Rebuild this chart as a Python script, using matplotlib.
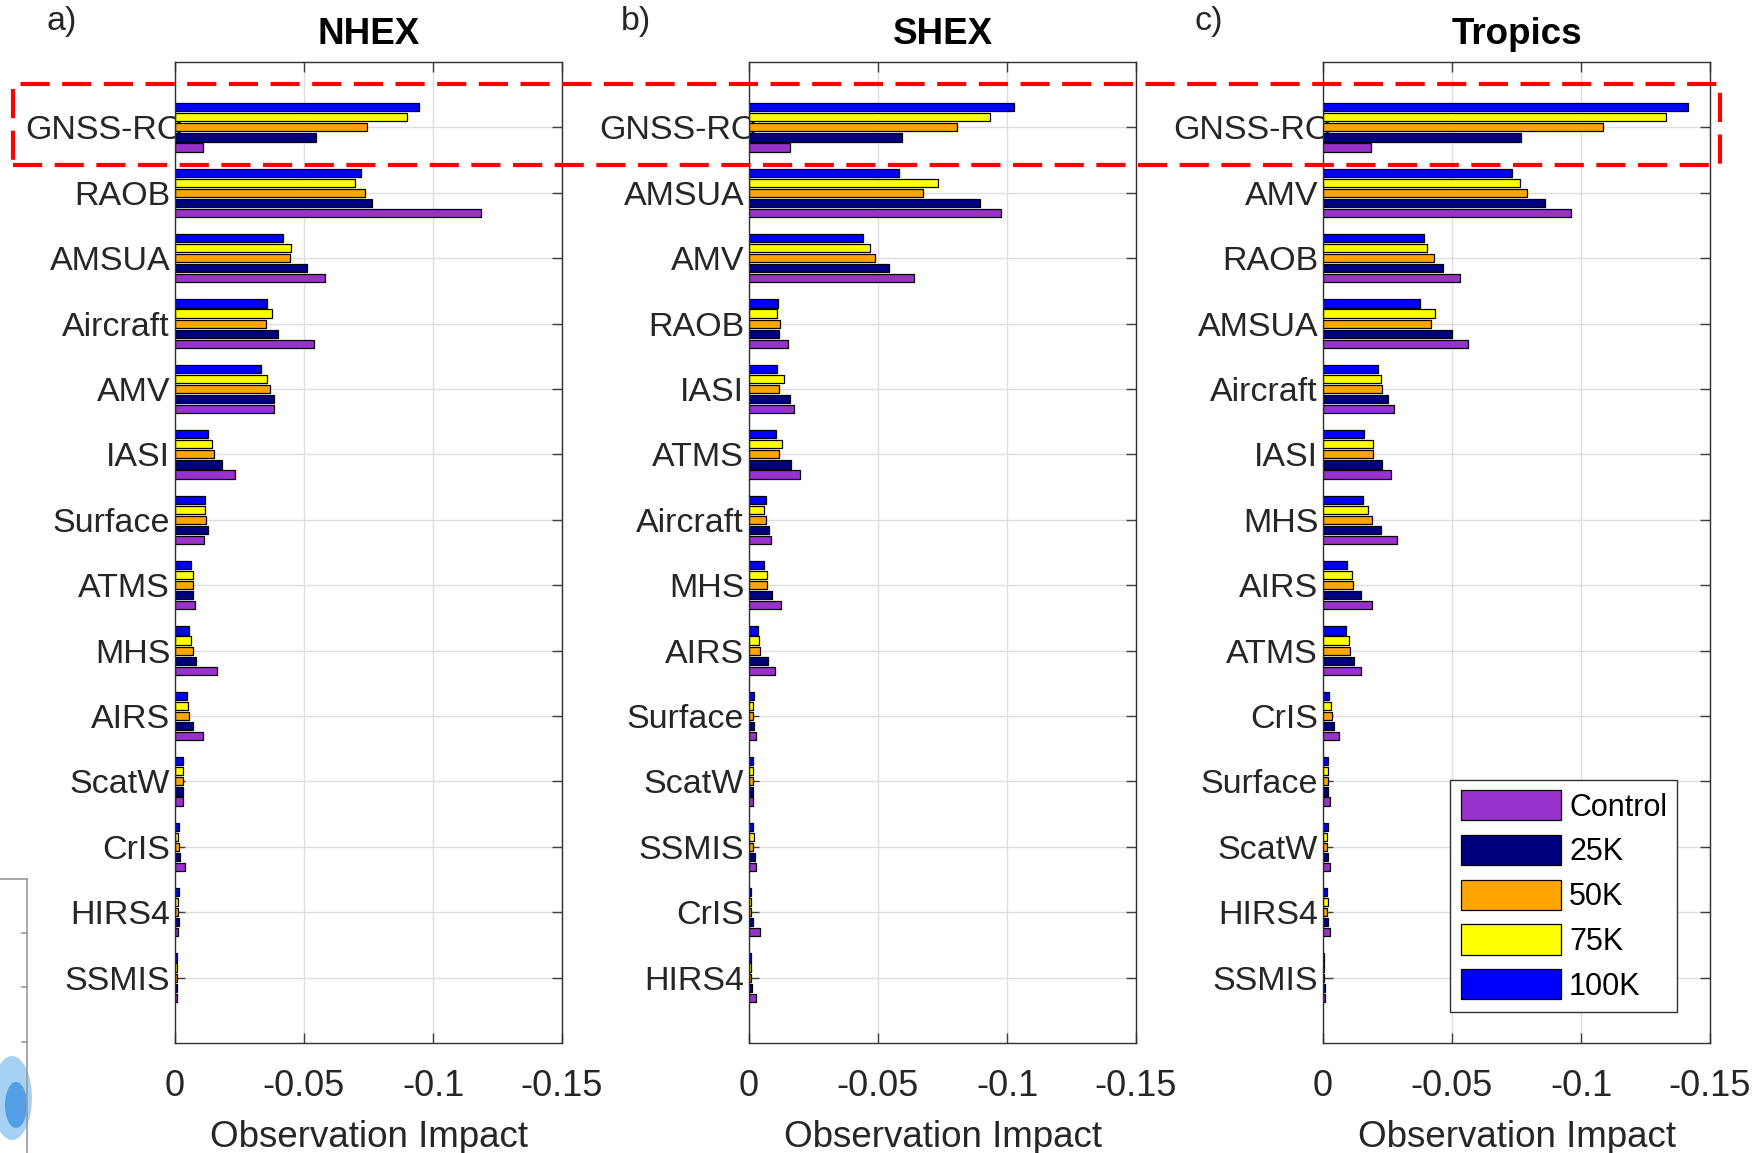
import matplotlib
matplotlib.use('Agg')
import matplotlib.pyplot as plt
import matplotlib.transforms as mtransforms
from matplotlib.patches import Rectangle, Patch, Ellipse
from matplotlib.lines import Line2D
import numpy as np

plt.rcParams['font.family'] = ['Liberation Sans', 'DejaVu Sans']

# ---- data (observation impact, negative = beneficial) ----
series_names = ['Control', '25K', '50K', '75K', '100K']
series_colors = ['#9932CC', '#00007F', '#FFA500', '#FFFF00', '#0000FF']

nhex_labels = ['GNSS-RO', 'RAOB', 'AMSUA', 'Aircraft', 'AMV', 'IASI', 'Surface',
               'ATMS', 'MHS', 'AIRS', 'ScatW', 'CrIS', 'HIRS4', 'SSMIS']
nhex_control = [-0.0108, -0.1185, -0.0581, -0.0540, -0.0383, -0.0233, -0.0114,
                -0.0076, -0.0164, -0.0108, -0.0032, -0.0040, -0.0012, -0.0008]
nhex_25k = [-0.0547, -0.0764, -0.0513, -0.0400, -0.0383, -0.0183, -0.0127,
            -0.0071, -0.0083, -0.0071, -0.0032, -0.0021, -0.0014, -0.0008]
nhex_50k = [-0.0745, -0.0737, -0.0447, -0.0354, -0.0368, -0.0150, -0.0120,
            -0.0069, -0.0069, -0.0054, -0.0032, -0.0015, -0.0012, -0.0006]
nhex_75k = [-0.0900, -0.0697, -0.0451, -0.0377, -0.0357, -0.0145, -0.0117,
            -0.0071, -0.0063, -0.0052, -0.0032, -0.0010, -0.0012, -0.0006]
nhex_100k = [-0.0945, -0.0720, -0.0418, -0.0356, -0.0335, -0.0129, -0.0117,
             -0.0063, -0.0056, -0.0045, -0.0032, -0.0014, -0.0014, -0.0008]

shex_labels = ['GNSS-RO', 'AMSUA', 'AMV', 'RAOB', 'IASI', 'ATMS', 'Aircraft',
               'MHS', 'AIRS', 'Surface', 'ScatW', 'SSMIS', 'CrIS', 'HIRS4']
shex_control = [-0.0160, -0.0978, -0.0641, -0.0153, -0.0174, -0.0197, -0.0084,
                -0.0123, -0.0100, -0.0026, -0.0016, -0.0026, -0.0041, -0.0026]
shex_25k = [-0.0592, -0.0897, -0.0541, -0.0115, -0.0160, -0.0163, -0.0079,
            -0.0090, -0.0074, -0.0018, -0.0016, -0.0022, -0.0016, -0.0010]
shex_50k = [-0.0807, -0.0676, -0.0490, -0.0120, -0.0115, -0.0118, -0.0065,
            -0.0070, -0.0043, -0.0016, -0.0016, -0.0016, -0.0009, -0.0006]
shex_75k = [-0.0933, -0.0733, -0.0470, -0.0108, -0.0135, -0.0129, -0.0058,
            -0.0070, -0.0039, -0.0016, -0.0016, -0.0018, -0.0009, -0.0006]
shex_100k = [-0.1028, -0.0580, -0.0440, -0.0113, -0.0110, -0.0105, -0.0066,
             -0.0060, -0.0035, -0.0021, -0.0017, -0.0017, -0.0007, -0.0006]

trop_labels = ['GNSS-RO', 'AMV', 'RAOB', 'AMSUA', 'Aircraft', 'IASI', 'MHS',
               'AIRS', 'ATMS', 'CrIS', 'Surface', 'ScatW', 'HIRS4', 'SSMIS']
trop_control = [-0.0187, -0.0962, -0.0532, -0.0561, -0.0275, -0.0262, -0.0287,
                -0.0189, -0.0149, -0.0063, -0.0027, -0.0026, -0.0026, -0.0006]
trop_25k = [-0.0768, -0.0859, -0.0464, -0.0499, -0.0251, -0.0228, -0.0225,
            -0.0146, -0.0120, -0.0044, -0.0019, -0.0019, -0.0020, -0.0006]
trop_50k = [-0.1085, -0.0791, -0.0430, -0.0417, -0.0228, -0.0192, -0.0189,
            -0.0117, -0.0105, -0.0033, -0.0018, -0.0016, -0.0017, -0.0005]
trop_75k = [-0.1329, -0.0763, -0.0404, -0.0435, -0.0223, -0.0194, -0.0175,
            -0.0113, -0.0100, -0.0031, -0.0018, -0.0016, -0.0018, -0.0005]
trop_100k = [-0.1415, -0.0732, -0.0391, -0.0377, -0.0212, -0.0158, -0.0155,
             -0.0094, -0.0088, -0.0025, -0.0019, -0.0018, -0.0016, -0.0005]

xticks = [0, -0.05, -0.1, -0.15]
xticklabels = ['0', '-0.05', '-0.1', '-0.15']

panels = [
    ('a)', 'NHEX', nhex_labels, [nhex_control, nhex_25k, nhex_50k, nhex_75k, nhex_100k]),
    ('b)', 'SHEX', shex_labels, [shex_control, shex_25k, shex_50k, shex_75k, shex_100k]),
    ('c)', 'Tropics', trop_labels, [trop_control, trop_25k, trop_50k, trop_75k, trop_100k]),
]

W, H = 1756, 1153
fig = plt.figure(figsize=(W / 100, H / 100), dpi=100)

txt = '#262626'
ax_lefts = [175, 749, 1323]
ax_w = 387
ax_top, ax_bot = 62, 1043
panel_label_x = [46, 621, 1195]

step = 0.154
bar_h = 0.125

for k, (plabel, title, labels, vals) in enumerate(panels):
    ax = fig.add_axes([ax_lefts[k] / W, 1 - ax_bot / H, ax_w / W, (ax_bot - ax_top) / H])
    n = len(labels)
    y = np.arange(1, n + 1)
    for i, (name, col, v) in enumerate(zip(series_names, series_colors, vals)):
        off = (2 - i) * step
        ax.barh(y + off, v, height=bar_h, color=col, edgecolor='black',
                linewidth=0.9, zorder=2, label=name)
    ax.set_ylim(n + 1, 0)
    ax.set_xlim(0, -0.15)
    ax.set_yticks(y)
    ax.set_yticklabels(labels)
    ax.set_xticks(xticks)
    ax.set_xticklabels(xticklabels)
    ax.grid(True, color='#dedede', linewidth=1.0, zorder=0)
    ax.set_axisbelow(True)
    ax.tick_params(axis='both', direction='in', length=7, width=1.0, color='#404040',
                   labelcolor=txt, top=True, right=True)
    ax.tick_params(axis='y', pad=3.5, labelsize=24.5)
    ax.tick_params(axis='x', pad=19, labelsize=26)
    # the GNSS-RO label sits closer to the axis in the original
    shift = mtransforms.ScaledTranslation(0.13, 0, fig.dpi_scale_trans)
    for lab in ax.get_yticklabels():
        if lab.get_text() == 'GNSS-RO':
            lab.set_transform(lab.get_transform() + shift)
    for sp in ax.spines.values():
        sp.set_color('#303030')
        sp.set_linewidth(1.0)
    ax.set_xlabel('Observation Impact', fontsize=26.5, color=txt, labelpad=11)
    ax.set_title(title, fontsize=26.5, fontweight='bold', color='black', pad=13)
    fig.text(panel_label_x[k] / W, 1 - 30 / H, plabel, fontsize=24.5, color=txt,
             ha='left', va='baseline')

    if k == 2:
        handles = [Patch(facecolor=c, edgecolor='black', linewidth=0.9) for c in series_colors]
        leg = ax.legend(handles, series_names, loc='lower right',
                        bbox_to_anchor=(0.915, 0.032), borderaxespad=0,
                        fontsize=22, handlelength=3.3, handleheight=1.15,
                        labelspacing=0.4, handletextpad=0.25, borderpad=0.33,
                        fancybox=False, framealpha=1, edgecolor='#303030')
        leg.get_frame().set_linewidth(1.0)
        for t in leg.get_texts():
            t.set_color('black')

# red dashed highlight box around the GNSS-RO row
box = Rectangle((13 / W, 1 - 165 / H), (1720 - 13) / W, (165 - 84) / H,
                transform=fig.transFigure, fill=False, edgecolor='red',
                linewidth=3, linestyle=(0, (7, 3)), zorder=10)
fig.add_artist(box)

# cropped fragment of a neighbouring figure at the lower-left edge
frag = '#9a9a9a'
fig.add_artist(Line2D([0, 27 / W], [1 - 879 / H, 1 - 879 / H], transform=fig.transFigure,
                      color=frag, linewidth=1.2))
fig.add_artist(Line2D([27 / W, 27 / W], [1 - 879 / H, 0], transform=fig.transFigure,
                      color=frag, linewidth=1.2))
for ty in [933, 987, 1042]:
    fig.add_artist(Line2D([22 / W, 27 / W], [1 - ty / H, 1 - ty / H], transform=fig.transFigure,
                          color=frag, linewidth=1.2))
fig.add_artist(Ellipse((12 / W, 1 - 1098 / H), 40 / W, 84 / H, transform=fig.transFigure,
                       facecolor='#3d9be6', edgecolor='none', alpha=0.45))
fig.add_artist(Ellipse((16 / W, 1 - 1105 / H), 22 / W, 46 / H, transform=fig.transFigure,
                       facecolor='#1a7fe0', edgecolor='none', alpha=0.6))

fig.savefig('out.png', dpi=100)
